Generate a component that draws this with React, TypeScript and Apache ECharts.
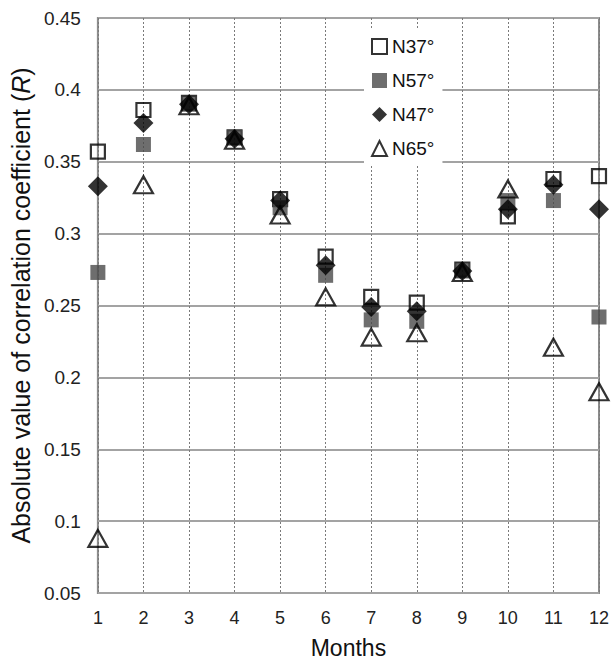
import React, { useEffect, useRef } from "react";
import * as echarts from "echarts";

const months = [1, 2, 3, 4, 5, 6, 7, 8, 9, 10, 11, 12];
const n37 = [0.357, 0.386, 0.391, 0.367, 0.324, 0.284, 0.256, 0.252, 0.275, 0.312, 0.338, 0.34];
const n57 = [0.273, 0.362, 0.39, 0.367, 0.318, 0.271, 0.24, 0.239, 0.274, 0.323, 0.323, 0.242];
const n47 = [0.333, 0.377, 0.39, 0.366, 0.323, 0.278, 0.249, 0.246, 0.274, 0.317, 0.334, 0.317];
const n65 = [0.088, 0.334, 0.389, 0.365, 0.313, 0.256, 0.228, 0.231, 0.273, 0.331, 0.221, 0.19];

const FONT = "'Liberation Sans', Arial, sans-serif";

function pairs(vals: number[]) {
  return months.map((m, i) => [m, vals[i]]);
}

export default function App() {
  const ref = useRef<HTMLDivElement>(null);
  useEffect(() => {
    document.body.style.margin = "0";
    const chart = echarts.init(ref.current!, null, { renderer: "svg" });
    chart.setOption({
      animation: false,
      backgroundColor: "#fff",
      textStyle: { fontFamily: FONT },
      grid: {
        left: 95,
        right: 11,
        top: 18,
        bottom: 64,
        show: true,
        borderColor: "#8c8c8c",
        borderWidth: 2,
        backgroundColor: "transparent",
      },
      legend: {
        orient: "vertical",
        left: 364,
        top: 30,
        backgroundColor: "#fff",
        padding: [7, 8, 8, 7],
        itemGap: 15,
        itemWidth: 15,
        itemHeight: 15,
        textStyle: { fontSize: 19, color: "#111", fontFamily: FONT },
        data: ["N37°", "N57°", "N47°", "N65°"],
        z: 10,
      },
      xAxis: {
        type: "value",
        min: 1,
        max: 12,
        interval: 1,
        name: "Months",
        nameLocation: "middle",
        nameGap: 43,
        nameTextStyle: { fontSize: 23, color: "#111", fontFamily: FONT },
        axisLine: { show: false },
        axisTick: { show: false },
        axisLabel: { fontSize: 18, color: "#222", margin: 16, fontFamily: FONT },
        splitLine: {
          show: true,
          lineStyle: { color: "#7a7a7a", width: 1, type: [2, 2] },
        },
      },
      yAxis: {
        type: "value",
        min: 0.05,
        max: 0.45,
        interval: 0.05,
        name: "Absolute value of correlation coefficient ({i|R})",
        nameLocation: "middle",
        nameGap: 52,
        nameRotate: 90,
        nameTextStyle: {
          fontSize: 25,
          color: "#111",
          fontFamily: FONT,
          rich: { i: { fontStyle: "italic", fontSize: 25, color: "#111", fontFamily: FONT } },
        },
        axisLine: { show: false },
        axisTick: { show: false },
        axisLabel: {
          fontSize: 19,
          color: "#222",
          margin: 17,
          fontFamily: FONT,
          formatter: (v: number) => String(Number(v.toFixed(2))),
        },
        splitLine: { show: true, lineStyle: { color: "#a3a3a3", width: 2 } },
      },
      series: [
        {
          name: "N37°",
          type: "scatter",
          symbol: "rect",
          symbolSize: 14,
          data: pairs(n37),
          itemStyle: { color: "rgba(255,255,255,0)", borderColor: "#000", borderWidth: 2.2 },
        },
        {
          name: "N57°",
          type: "scatter",
          symbol: "rect",
          symbolSize: 15,
          data: pairs(n57),
          itemStyle: { color: "#4a4a4a" },
        },
        {
          name: "N47°",
          type: "scatter",
          symbol: "diamond",
          symbolSize: 20,
          data: pairs(n47),
          itemStyle: { color: "#000" },
        },
        {
          name: "N65°",
          type: "scatter",
          symbol: "triangle",
          symbolSize: [19, 17],
          data: pairs(n65),
          itemStyle: { color: "rgba(255,255,255,0)", borderColor: "#000", borderWidth: 2.2 },
        },
      ],
    });
    return () => chart.dispose();
  }, []);
  return <div ref={ref} style={{ width: 612, height: 664 }} />;
}
